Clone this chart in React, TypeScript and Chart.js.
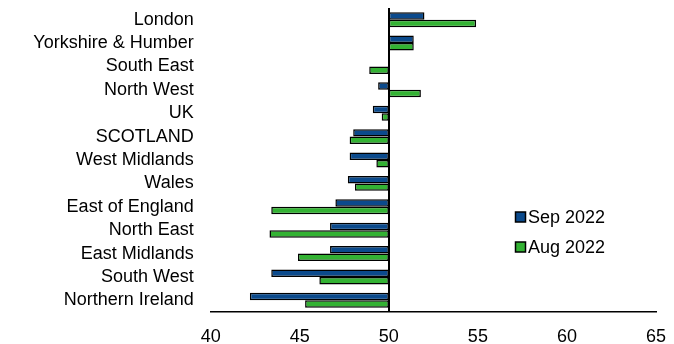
import React, { useEffect, useRef } from "react";
import { Chart, registerables } from "chart.js";

Chart.register(...registerables);

// Regions, top to bottom
const regions = [
  "London",
  "Yorkshire & Humber",
  "South East",
  "North West",
  "UK",
  "SCOTLAND",
  "West Midlands",
  "Wales",
  "East of England",
  "North East",
  "East Midlands",
  "South West",
  "Northern Ireland",
];

// Index readings (50 = no change)
const sep2022 = [52.0, 51.4, 50.0, 49.4, 49.1, 48.0, 47.8, 47.7, 47.0, 46.7, 46.7, 43.4, 42.2];
const aug2022 = [54.9, 51.4, 48.9, 51.8, 49.6, 47.8, 49.3, 48.1, 43.4, 43.3, 44.9, 46.1, 45.3];

const seriesNames = ["Sep 2022", "Aug 2022"];
const seriesColors = ["#0b4a8c", "#33b233"];

const baseline = 50;
const xTicks = [40, 45, 50, 55, 60, 65];

const FONT = "'Liberation Sans', Arial, sans-serif";

// Bars float from the 50 baseline to each reading
const toRange = (vals: number[]) => vals.map((v) => [baseline, v] as [number, number]);

const sideLegend = {
  id: "sideLegend",
  afterDraw(chart: Chart) {
    const ctx = chart.ctx;
    ctx.save();
    ctx.font = `18px ${FONT}`;
    ctx.textBaseline = "middle";
    ctx.textAlign = "left";
    chart.data.datasets.forEach((ds: any, i: number) => {
      const y = 217 + i * 30;
      ctx.fillStyle = ds.backgroundColor;
      ctx.fillRect(515.5, y - 5, 10, 10);
      ctx.strokeStyle = "#000";
      ctx.lineWidth = 1.5;
      ctx.strokeRect(515.5, y - 5, 10, 10);
      ctx.fillStyle = "#000";
      ctx.fillText(ds.label, 528, y + 1);
    });
    ctx.restore();
  },
};

export default function App() {
  const canvasRef = useRef<HTMLCanvasElement | null>(null);

  useEffect(() => {
    if (!canvasRef.current) return;
    const chart = new Chart(canvasRef.current, {
      type: "bar",
      data: {
        labels: regions,
        datasets: [sep2022, aug2022].map((vals, i) => ({
          label: seriesNames[i],
          data: toRange(vals) as any,
          backgroundColor: seriesColors[i],
          borderColor: "#000",
          borderWidth: 1.5,
          borderSkipped: false,
          categoryPercentage: 0.64,
          barPercentage: 1.0,
        })),
      },
      options: {
        indexAxis: "y",
        responsive: false,
        animation: false,
        layout: { padding: { top: 8, right: 18, left: 0, bottom: 0 } },
        plugins: {
          legend: { display: false },
          tooltip: { enabled: false },
        },
        scales: {
          x: {
            type: "linear",
            min: 40,
            max: 65,
            afterBuildTicks: (scale: any) => {
              scale.ticks = xTicks.map((v) => ({ value: v }));
            },
            afterFit: (scale: any) => {
              scale.height = 32;
              scale.paddingLeft = 0;
              scale.paddingRight = 0;
            },
            ticks: {
              color: "#000",
              font: { family: FONT, size: 18 },
              padding: 14,
              maxRotation: 0,
            },
            grid: {
              drawTicks: false,
              lineWidth: 2,
              color: (c: any) => (c.tick && c.tick.value === baseline ? "#000" : "rgba(0,0,0,0)"),
            },
            border: { display: true, color: "#000", width: 1.5 },
          },
          y: {
            afterFit: (scale: any) => {
              scale.width = 210.7;
              scale.paddingTop = 0;
              scale.paddingBottom = 0;
            },
            ticks: {
              color: "#000",
              font: { family: FONT, size: 18 },
              padding: 17,
              autoSkip: false,
            },
            grid: { display: false, drawTicks: false },
            border: { display: false },
          },
        },
      },
      plugins: [sideLegend],
    });
    return () => chart.destroy();
  }, []);

  return (
    <div style={{ position: "fixed", left: 0, top: 0, width: 674, height: 344, background: "#fff" }}>
      <canvas ref={canvasRef} width={674} height={344} />
    </div>
  );
}
